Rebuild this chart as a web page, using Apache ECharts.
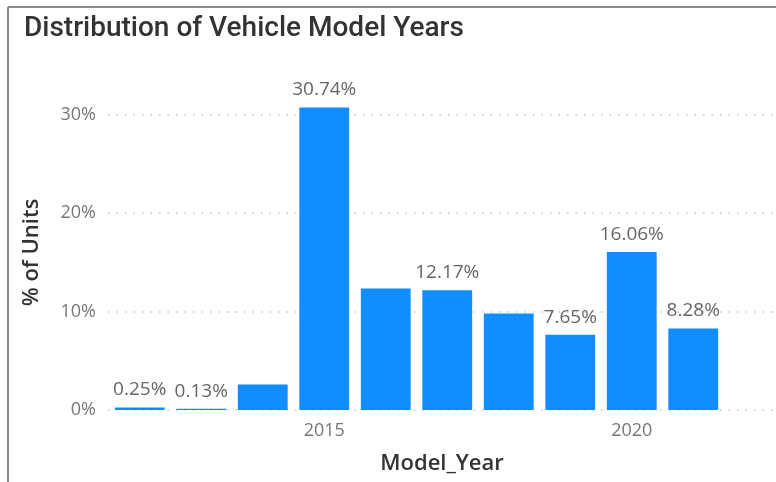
<!DOCTYPE html>
<html>
<head>
<meta charset="utf-8">
<script src="https://cdn.jsdelivr.net/npm/echarts@6/dist/echarts.min.js"></script>
<style>
  html, body { margin: 0; padding: 0; background: #fff; }
  #chart { width: 776px; height: 482px; }
</style>
</head>
<body>
<div id="chart"></div>
<script>
// Share of units by model year (percent)
const modelYears = ['2012', '2013', '2014', '2015', '2016', '2017', '2018', '2019', '2020', '2021'];
const unitShare = [0.25, 0.13, 2.6, 30.74, 12.35, 12.17, 9.8, 7.65, 16.06, 8.28];
// Years whose value label is drawn above the bar
const labelledYears = ['2012', '2013', '2015', '2017', '2019', '2020', '2021'];
const yTicks = [0, 10, 20, 30];

const BLUE = '#118DFF';
const plotTop = 95, plotHeight = 315;

const chart = echarts.init(document.getElementById('chart'));

chart.setOption({
  animation: false,
  backgroundColor: '#fff',
  title: {
    text: 'Distribution of Vehicle Model Years',
    left: 19, top: 10,
    textStyle: { fontFamily: 'Roboto', fontSize: 28, fontWeight: 500, color: '#333' }
  },
  graphic: [
    // visual frame: top and left edges
    { type: 'line', shape: { x1: 8, y1: 7, x2: 776, y2: 7 }, style: { stroke: '#8a8a8a', lineWidth: 2 } },
    { type: 'line', shape: { x1: 8, y1: 7, x2: 8, y2: 482 }, style: { stroke: '#8a8a8a', lineWidth: 2 } }
  ],
  grid: [
    { left: 109, width: 615, top: plotTop, height: plotHeight },
    { left: 108, right: 0, top: plotTop, height: plotHeight }
  ],
  xAxis: [
    {
      type: 'category', gridIndex: 0, data: modelYears,
      axisLine: { show: false }, axisTick: { show: false },
      axisLabel: {
        interval: 0, margin: 12,
        formatter: v => (Number(v) % 5 === 0 ? v : ''),
        fontFamily: 'Open Sans', fontSize: 18, color: '#777'
      }
    },
    {
      type: 'value', gridIndex: 1, min: 0, max: 1,
      name: 'Model_Year', nameLocation: 'middle', nameGap: 43,
      nameTextStyle: { fontFamily: 'Open Sans', fontSize: 22, fontWeight: 600, color: '#333' },
      axisLine: { show: false }, axisTick: { show: false },
      axisLabel: { show: false }, splitLine: { show: false }
    }
  ],
  yAxis: [
    {
      type: 'value', gridIndex: 0, min: 0, max: 32, interval: 10,
      axisLine: { show: false }, axisTick: { show: false },
      axisLabel: { show: false }, splitLine: { show: false }
    },
    {
      type: 'value', gridIndex: 1, min: 0, max: 32, interval: 10,
      name: '% of Units', nameLocation: 'middle', nameGap: 65, nameRotate: 90,
      nameTextStyle: { fontFamily: 'Open Sans', fontSize: 22, fontWeight: 600, color: '#333' },
      axisLine: { show: false }, axisTick: { show: false },
      axisLabel: {
        margin: 12, showMaxLabel: false,
        formatter: v => (yTicks.includes(v) ? v + '%' : ''),
        fontFamily: 'Open Sans', fontSize: 18, color: '#777'
      },
      splitLine: {
        show: true, showMaxLine: false,
        lineStyle: { color: '#c8c8c8', width: 1.5, type: [1.5, 7] }
      }
    }
  ],
  series: [
    {
      type: 'bar', xAxisIndex: 0, yAxisIndex: 0,
      barCategoryGap: '19%',
      itemStyle: { color: BLUE },
      data: unitShare.map((v, i) => ({
        value: v,
        label: { show: labelledYears.includes(modelYears[i]) }
      })),
      label: {
        position: 'top', distance: 8,
        formatter: p => p.value.toFixed(2) + '%',
        fontFamily: 'Open Sans', fontSize: 19, color: '#666'
      }
    }
  ]
});
</script>
</body>
</html>
